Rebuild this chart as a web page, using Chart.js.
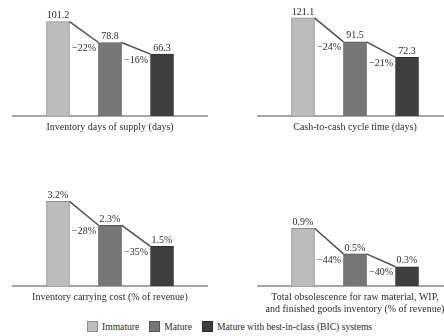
<!DOCTYPE html>
<html>
<head>
<meta charset="utf-8">
<script src="https://cdn.jsdelivr.net/npm/chart.js@4/dist/chart.umd.min.js"></script>
<style>
  html, body { margin: 0; padding: 0; background: #fff; }
  body { width: 444px; height: 336px; position: relative; overflow: hidden; }
  canvas { position: absolute; }
  #legend {
    position: absolute; left: 87px; top: 321px;
    display: flex; align-items: center;
    font-family: "Liberation Serif", "DejaVu Serif", serif; font-size: 9.6px; color: #2b2b2b;
    white-space: nowrap;
  }
  #legend .sw { width: 9px; height: 9px; border: 1px solid; margin-right: 4px; }
  #legend .it { display: flex; align-items: center; margin-right: 10px; }
</style>
</head>
<body>
<canvas id="c1" width="222" height="150" style="left:0;top:0"></canvas>
<canvas id="c2" width="240" height="150" style="left:222px;top:0"></canvas>
<canvas id="c3" width="222" height="170" style="left:0;top:150px"></canvas>
<canvas id="c4" width="240" height="170" style="left:222px;top:150px"></canvas>
<div id="legend"></div>
<script>
// Maturity groups compared in every panel
const categories = ['Immature', 'Mature', 'Mature with best-in-class (BIC) systems'];

// Inventory days of supply (days)
const daysOfSupply = [101.2, 78.8, 66.3];
const daysOfSupplyChange = ['\u221222%', '\u221216%'];

// Cash-to-cash cycle time (days)
const cashToCash = [121.1, 91.5, 72.3];
const cashToCashChange = ['\u221224%', '\u221221%'];

// Inventory carrying cost (% of revenue)
const carryingCost = [3.2, 2.3, 1.5];
const carryingCostChange = ['\u221228%', '\u221235%'];

// Total obsolescence (% of revenue)
const obsolescence = [0.9, 0.5, 0.3];
const obsolescenceChange = ['\u221244%', '\u221240%'];

const titles = [
  'Inventory days of supply (days)',
  'Cash-to-cash cycle time (days)',
  'Inventory carrying cost (% of revenue)',
  ['Total obsolescence for raw material, WIP,', 'and finished goods inventory (% of revenue)']
];

const fills   = ['#bcbcbc', '#767676', '#3e3e3e'];
const borders = ['#8e8e8e', '#565656', '#2a2a2a'];
const textColor = '#2b2b2b';
const serif = '"Liberation Serif", "DejaVu Serif", serif';

// Value labels above bars, connector lines between bar tops and % change labels
const stepPlugin = {
  id: 'steps',
  afterDatasetsDraw(chart, args, opts) {
    const ctx = chart.ctx;
    const bars = chart.getDatasetMeta(0).data;
    const values = chart.data.datasets[0].data;
    ctx.save();
    ctx.font = '10px ' + serif;
    ctx.fillStyle = textColor;
    ctx.textAlign = 'center';
    // connectors
    ctx.strokeStyle = '#505050';
    ctx.lineWidth = 1.5;
    for (let i = 0; i < bars.length - 1; i++) {
      const a = bars[i], b = bars[i + 1];
      ctx.beginPath();
      ctx.moveTo(a.x + a.width / 2, a.y);
      ctx.lineTo(b.x - b.width / 2, b.y);
      ctx.stroke();
    }
    // values
    ctx.textBaseline = 'bottom';
    bars.forEach((bar, i) => {
      ctx.fillText(values[i].y.toFixed(1) + opts.suffix, bar.x, bar.y - 1);
    });
    // changes
    ctx.textBaseline = 'middle';
    for (let i = 0; i < bars.length - 1; i++) {
      const a = bars[i], b = bars[i + 1];
      const gx = ((a.x + a.width / 2) + (b.x - b.width / 2)) / 2;
      ctx.fillText(opts.changes[i], gx, b.y + 6);
    }
    ctx.restore();
  }
};

function panel(id, values, changes, suffix, title, yMax, pad) {
  return new Chart(document.getElementById(id), {
    type: 'bar',
    data: {
      datasets: [{
        data: values.map((v, i) => ({ x: i, y: v })),
        backgroundColor: fills,
        borderColor: borders,
        borderWidth: 1,
        barThickness: 23
      }]
    },
    options: {
      responsive: false,
      animation: false,
      layout: { padding: pad },
      plugins: {
        legend: { display: false },
        tooltip: { enabled: false },
        steps: { changes: changes, suffix: suffix }
      },
      scales: {
        x: {
          type: 'linear',
          offset: false,
          min: -0.865,
          max: 2.865,
          ticks: { display: false },
          grid: { display: false, drawTicks: false },
          border: { display: true, color: '#a6a6a6', width: 2 },
          title: {
            display: true,
            text: title,
            color: textColor,
            font: { family: serif, size: 10 },
            padding: { top: 5, bottom: 0 }
          }
        },
        y: {
          display: false,
          min: 0,
          max: yMax
        }
      }
    },
    plugins: [stepPlugin]
  });
}

panel('c1', daysOfSupply, daysOfSupplyChange, '', titles[0], 119, { left: 13, right: 15, top: 5, bottom: 17 });
panel('c2', cashToCash, cashToCashChange, '', titles[1], 137, { left: 36, right: 10, top: 5, bottom: 17 });
panel('c3', carryingCost, carryingCostChange, '%', titles[2], 4.2, { left: 13, right: 15, top: 25, bottom: 17 });
panel('c4', obsolescence, obsolescenceChange, '%', titles[3], 1.73, { left: 36, right: 10, top: 25, bottom: 5 });

// Shared legend
const legend = document.getElementById('legend');
categories.forEach((name, i) => {
  const item = document.createElement('div');
  item.className = 'it';
  const sw = document.createElement('div');
  sw.className = 'sw';
  sw.style.background = fills[i];
  sw.style.borderColor = borders[i];
  const label = document.createElement('span');
  label.textContent = name;
  item.appendChild(sw);
  item.appendChild(label);
  legend.appendChild(item);
});
</script>
</body>
</html>
